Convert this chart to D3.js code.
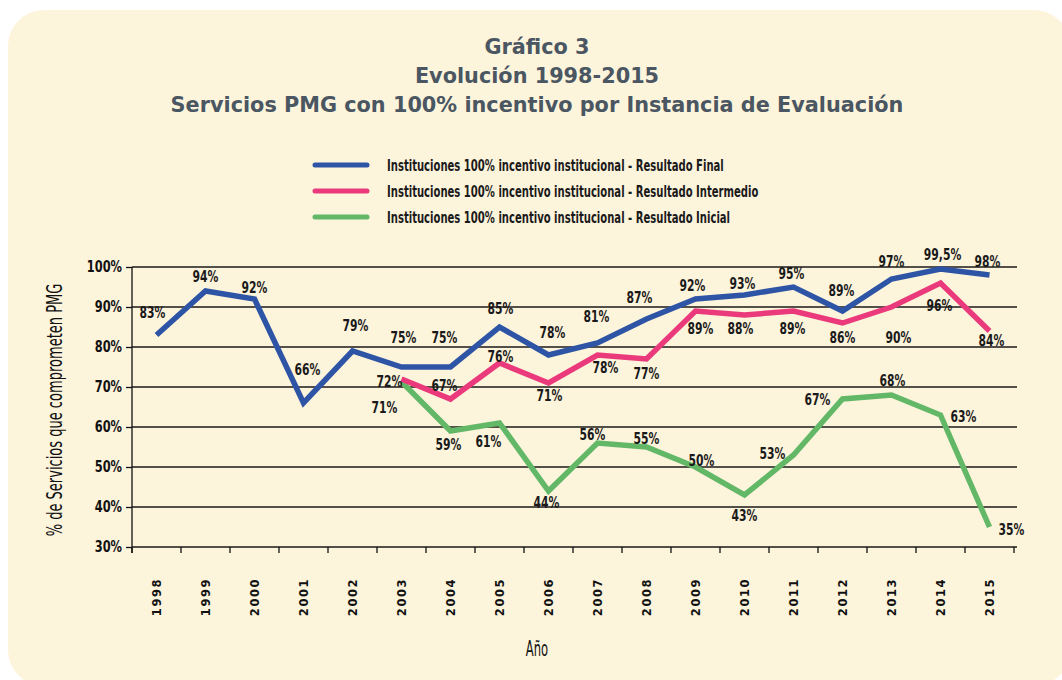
<!DOCTYPE html>
<html><head><meta charset="utf-8">
<script src="https://cdn.jsdelivr.net/npm/d3@7/dist/d3.min.js"></script>
<style>
body{margin:0;background:#fff;}
svg{display:block;}
</style></head>
<body>
<svg id="c" width="1062" height="680"></svg>
<script>
const years = ["1998","1999","2000","2001","2002","2003","2004","2005","2006","2007","2008","2009","2010","2011","2012","2013","2014","2015"];
const finalVals = [83,94,92,66,79,75,75,85,78,81,87,92,93,95,89,97,99.5,98];
const finalLabels = ["83%","94%","92%","66%","79%","75%","75%","85%","78%","81%","87%","92%","93%","95%","89%","97%","99,5%","98%"];
const interYears = ["2003","2004","2005","2006","2007","2008","2009","2010","2011","2012","2013","2014","2015"];
const interVals = [72,67,76,71,78,77,89,88,89,86,90,96,84];
const initVals = [71.3,59,61,44,56,55,50,43,53,67,68,63,35];
const initLabels = ["71%","59%","61%","44%","56%","55%","50%","43%","53%","67%","68%","63%","35%"];
const yTicks = [30,40,50,60,70,80,90,100];
const seriesNames = [
  "Instituciones 100% incentivo institucional - Resultado Final",
  "Instituciones 100% incentivo institucional - Resultado Intermedio",
  "Instituciones 100% incentivo institucional - Resultado Inicial"
];
const colors = ["#2e55a5","#ea3a7c","#63b868"];

// label offsets (dx, dy relative to point) – placement only
const finalOff = [[-4,-23],[0,-15],[0,-12],[4,-34],[3,-26],[2,-30],[-6,-30],[1,-19],[4,-23],[-1,-27],[-7,-22],[-3,-14],[-2,-12],[-2,-14],[-1,-21],[0,-18],[2,-15],[-2,-14]];
const interOff = [[-12,2],[-6,-14],[1,-7],[1,12],[8,12],[0,14],[5,17],[-4,13],[-1,17],[0,14],[7,30],[-1,22],[2,9]];
const initOff = [[-17,26],[-2,13],[-11,18],[-2,11],[-5,-9],[0,-9],[6,-7],[0,20],[-21,-2],[-25,0],[1,-15],[23,1],[22,2]];

const svg = d3.select("#c");
svg.append("rect").attr("x",8).attr("y",10).attr("width",1062).attr("height",676).attr("rx",36).attr("fill","#fdf4dc");

const sans = "'DejaVu Sans',sans-serif";
function condense(sel, f){
  sel.each(function(){
    const L = this.getComputedTextLength();
    d3.select(this).attr("textLength", L*f).attr("lengthAdjust","spacingAndGlyphs");
  });
}

// Title
const title = ["Gráfico 3","Evolución 1998-2015","Servicios PMG con 100% incentivo por Instancia de Evaluación"];
svg.append("g").selectAll("text").data(title).join("text")
  .attr("x",537).attr("y",(d,i)=>54+i*29)
  .attr("text-anchor","middle")
  .attr("font-family","'DejaVu Sans',Verdana,sans-serif").attr("font-weight","bold")
  .attr("font-size",20.8).attr("fill","#4a5661")
  .text(d=>d);

// Legend
const lg = svg.append("g");
seriesNames.forEach((n,i)=>{
  const yy = 165 + i*26;
  lg.append("line").attr("x1",315).attr("x2",367).attr("y1",yy).attr("y2",yy)
    .attr("stroke",colors[i]).attr("stroke-width",5).attr("stroke-linecap","round");
  lg.append("text").attr("x",387).attr("y",yy+5.5).text(n)
    .attr("font-family",sans).attr("font-weight","bold").attr("font-size",15).attr("fill","#1a1a1a")
    .call(condense,0.67);
});

// Scales
const x = d3.scaleBand().domain(years).range([132,1014]);
const y = d3.scaleLinear().domain([30,100]).range([547,267]);
const cx = d => x(d) + x.bandwidth()/2;

// Gridlines
svg.append("g").selectAll("line").data(yTicks).join("line")
  .attr("x1",132).attr("x2",1017).attr("y1",d=>y(d)).attr("y2",d=>y(d))
  .attr("stroke","#1a1a1a").attr("stroke-width",1.3);

// Y axis
const yAxis = svg.append("g").attr("transform","translate(132,0)")
  .call(d3.axisLeft(y).tickValues(yTicks).tickSize(6).tickFormat(d=>d+"%"));
yAxis.select(".domain").remove();
yAxis.append("line").attr("x1",0).attr("x2",0).attr("y1",267).attr("y2",553).attr("stroke","#111").attr("stroke-width",1.3);
yAxis.selectAll(".tick line").attr("stroke","#111").attr("stroke-width",1.3);
yAxis.selectAll(".tick text").attr("font-family",sans).attr("font-weight","bold").attr("font-size",15).attr("fill","#111").attr("x",-10)
  .call(condense,0.76);

// X axis ticks at band boundaries
const xg = svg.append("g").attr("transform","translate(0,547)");
const bounds = years.map(d=>x(d)).concat([x.range()[1]]);
xg.selectAll("line.t").data(bounds).join("line")
  .attr("x1",d=>d).attr("x2",d=>d)
  .attr("y1",0).attr("y2",6).attr("stroke","#111").attr("stroke-width",1.3);
xg.selectAll("text").data(years).join("text")
  .attr("transform",d=>`translate(${cx(d)+4},50) rotate(-90)`)
  .attr("text-anchor","middle")
  .attr("font-family",sans).attr("font-weight","bold").attr("font-size",11.5)
  .attr("letter-spacing",1.6).attr("fill","#111").text(d=>d);

// Axis titles
svg.append("text").attr("transform","translate(62,410) rotate(-90)").attr("text-anchor","middle")
  .attr("font-family",sans).attr("font-size",21).attr("fill","#111")
  .text("% de Servicios que comprometen PMG")
  .call(condense,0.62);
svg.append("text").attr("x",537).attr("y",656).attr("text-anchor","middle")
  .attr("font-family",sans).attr("font-size",21).attr("fill","#111").text("Año")
  .call(condense,0.55);

// Lines
const line = d3.line().x(d=>cx(d[0])).y(d=>y(d[1]));
const sets = [
  years.map((d,i)=>[d,finalVals[i]]),
  interYears.map((d,i)=>[d,interVals[i]]),
  interYears.map((d,i)=>[d,initVals[i]])
];
[2,1,0].forEach(i=>{
  svg.append("path").datum(sets[i]).attr("d",line).attr("fill","none")
    .attr("stroke",colors[i]).attr("stroke-width",5.5).attr("stroke-linejoin","miter");
});

// Data labels
function labels(data, texts, offs){
  svg.append("g").selectAll("text").data(data).join("text")
    .attr("x",(d,i)=>cx(d[0])+offs[i][0]).attr("y",(d,i)=>y(d[1])+offs[i][1]+5.5)
    .attr("text-anchor","middle")
    .attr("font-family",sans).attr("font-weight","bold").attr("font-size",15).attr("fill","#1a1a1a")
    .text((d,i)=>texts[i])
    .call(condense,0.72);
}
labels(sets[0], finalLabels, finalOff);
labels(sets[1], interVals.map(v=>v+"%"), interOff);
labels(sets[2], initLabels, initOff);
</script>
</body></html>
